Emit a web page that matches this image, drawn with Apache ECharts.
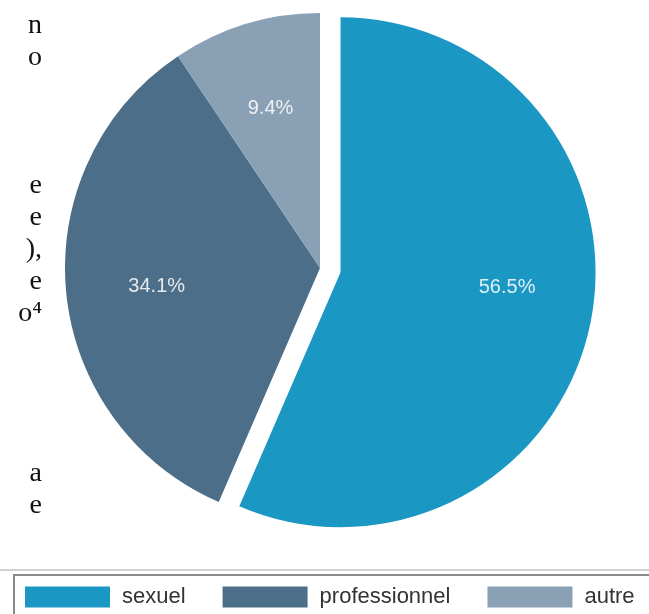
<!DOCTYPE html>
<html>
<head>
<meta charset="utf-8">
<script src="https://cdn.jsdelivr.net/npm/echarts@6/dist/echarts.min.js"></script>
<style>
html,body{margin:0;padding:0;background:#fff;}
#chart{width:649px;height:614px;}
</style>
</head>
<body>
<div id="chart"></div>
<script>
const categories = ['sexuel', 'professionnel', 'autre'];
const values = [56.5, 34.1, 9.4];
const colors = ['#1b97c4', '#4d6e88', '#8aa0b5'];
const sideText = ['n', 'o', '', '', '', 'e', 'e', '),', 'e', 'o\u2074', '', '', '', '', 'a', 'e'];

const chart = echarts.init(document.getElementById('chart'), null, {renderer: 'canvas'});

const labelOffsets = [[0, -19], [6, 3], [0, 3]];
const pieData = categories.map((c, i) => ({
  name: c, value: values[i], selected: i === 0,
  itemStyle: {color: colors[i]}
}));

const R = 255;
const common = {
  type: 'pie',
  center: [320, 268],
  startAngle: 90,
  clockwise: true,
  selectedMode: 'single',
  selectedOffset: 21,
  animation: false,
  emphasis: {disabled: true},
  select: {itemStyle: {}}
};

const graphics = [
  {type: 'line', shape: {x1: 0, y1: 570, x2: 649, y2: 570}, style: {stroke: '#c4c4c4', lineWidth: 1.5}, silent: true},
  {type: 'rect', shape: {x: 14, y: 575, width: 700, height: 80}, style: {fill: 'none', stroke: '#8a8a8a', lineWidth: 2}, silent: true}
];
sideText.forEach((t, row) => {
  if (!t) return;
  graphics.push({
    type: 'text', x: 42, y: 40 + row * 32, silent: true,
    style: {text: t, align: 'right', verticalAlign: 'bottom', fill: '#111', font: '28px "Liberation Serif"'}
  });
});

chart.setOption({
  backgroundColor: '#fff',
  animation: false,
  legend: {
    data: categories,
    left: 25, top: 586, padding: 0,
    itemWidth: 85, itemHeight: 21, itemGap: 37,
    icon: 'rect', selectedMode: false,
    textStyle: {fontFamily: 'Liberation Sans', fontSize: 22, color: '#333', padding: [0, 0, 0, 7]}
  },
  graphic: graphics,
  series: [
    Object.assign({}, common, {
      name: 'main', radius: [0, R],
      label: {show: false}, labelLine: {show: false},
      data: pieData
    }),
    Object.assign({}, common, {
      name: 'labels', radius: [0, R * 1.31], silent: true,
      itemStyle: {color: 'rgba(0,0,0,0)'},
      label: {
        show: true, position: 'inner',
        formatter: p => p.value.toFixed(1) + '%',
        fontFamily: 'Liberation Sans', fontSize: 20, color: 'rgba(255,255,255,0.85)'
      },
      labelLine: {show: false},
      data: categories.map((c, i) => ({
        name: c, value: values[i], selected: i === 0,
        itemStyle: {color: 'rgba(0,0,0,0)'},
        label: {offset: labelOffsets[i]},
        select: {label: {offset: labelOffsets[i]}}
      }))
    })
  ]
});
</script>
</body>
</html>
